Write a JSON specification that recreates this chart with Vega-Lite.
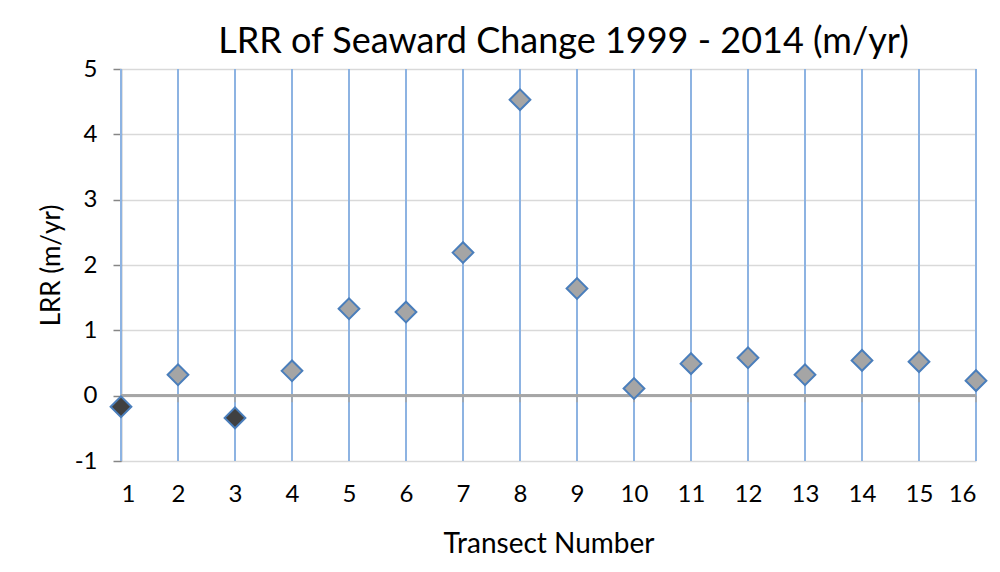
{
  "$schema": "https://vega.github.io/schema/vega-lite/v6.json",
  "width": 855,
  "height": 392,
  "autosize": {"type": "none"},
  "padding": {"left": 121, "top": 69, "right": 24, "bottom": 111},
  "background": "white",
  "title": {
    "text": "LRR of Seaward Change 1999 - 2014 (m/yr)",
    "font": "Lato",
    "fontSize": 36,
    "fontWeight": "normal",
    "color": "#000000",
    "anchor": "middle",
    "dx": 15,
    "offset": -4
  },
  "config": {
    "view": {"stroke": null},
    "font": "Lato"
  },
  "data": {
    "values": [
      {"Transect": 1, "LRR": -0.17},
      {"Transect": 2, "LRR": 0.32},
      {"Transect": 3, "LRR": -0.34},
      {"Transect": 4, "LRR": 0.38},
      {"Transect": 5, "LRR": 1.33},
      {"Transect": 6, "LRR": 1.28},
      {"Transect": 7, "LRR": 2.19},
      {"Transect": 8, "LRR": 4.53},
      {"Transect": 9, "LRR": 1.64},
      {"Transect": 10, "LRR": 0.11},
      {"Transect": 11, "LRR": 0.49},
      {"Transect": 12, "LRR": 0.58},
      {"Transect": 13, "LRR": 0.32},
      {"Transect": 14, "LRR": 0.54},
      {"Transect": 15, "LRR": 0.52},
      {"Transect": 16, "LRR": 0.23}
    ]
  },
  "layer": [
    {
      "mark": {"type": "rule", "color": "#8DB3E2", "strokeWidth": 2},
      "encoding": {
        "x": {"field": "Transect", "type": "quantitative"},
        "y": {"datum": -1},
        "y2": {"datum": 5}
      }
    },
    {
      "mark": {"type": "rule", "color": "#A6A6A6", "strokeWidth": 2},
      "encoding": {
        "y": {"datum": 0}
      }
    },
    {
      "mark": {"type": "rule", "color": "#A6A6A6", "strokeWidth": 1.5},
      "encoding": {
        "x": {"field": "Transect", "type": "quantitative"},
        "y": {"datum": 0},
        "y2": {"datum": -0.1}
      }
    },
    {
      "mark": {"type": "point", "shape": "diamond", "size": 430, "filled": true, "stroke": "#4A7EBB", "strokeWidth": 2, "opacity": 1},
      "encoding": {
        "x": {
          "field": "Transect",
          "type": "quantitative",
          "scale": {"domain": [1, 16], "nice": false, "zero": false},
          "axis": {
            "title": "Transect Number",
            "values": [1,2,3,4,5,6,7,8,9,10,11,12,13,14,15,16],
            "labelExpr": "datum.value + ''",
            "grid": false,
            "domain": false,
            "ticks": false,
            "labelFont": "Lato",
            "labelFontSize": 24,
            "labelColor": "#000000",
            "labelPadding": 21,
            "titleFont": "Lato",
            "titleFontSize": 28,
            "titleFontWeight": "normal",
            "titleColor": "#000000",
            "titlePadding": 24
          }
        },
        "y": {
          "field": "LRR",
          "type": "quantitative",
          "scale": {"domain": [-1, 5], "nice": false, "zero": false},
          "axis": {
            "title": "LRR (m/yr)",
            "values": [-1,0,1,2,3,4,5],
            "labelExpr": "datum.value + ''",
            "grid": true,
            "gridColor": "#D9D9D9",
            "gridWidth": 1.5,
            "domain": true,
            "domainColor": "#868686",
            "domainWidth": 1.5,
            "ticks": true,
            "tickColor": "#868686",
            "tickSize": 8,
            "tickWidth": 1.5,
            "labelFont": "Lato",
            "labelFontSize": 24,
            "labelColor": "#000000",
            "labelPadding": 16,
            "titleFont": "Lato",
            "titleFontSize": 26,
            "titleFontWeight": "normal",
            "titleColor": "#000000",
            "titlePadding": 10
          }
        },
        "fill": {
          "condition": {"test": "datum.LRR < 0", "value": "#404040"},
          "value": "#A5A5A5"
        }
      }
    }
  ]
}
